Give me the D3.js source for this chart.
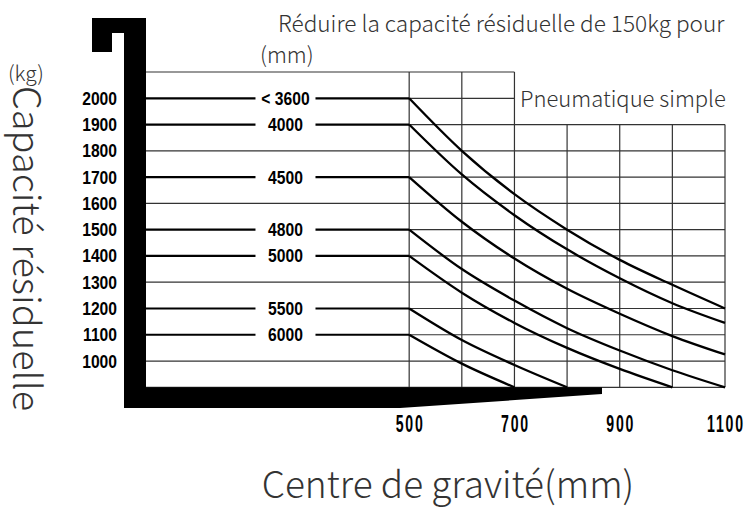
<!DOCTYPE html>
<html>
<head>
<meta charset="utf-8">
<script src="https://cdn.jsdelivr.net/npm/d3@7"></script>
<style>
  body { margin: 0; background: #fff; }
  .tick-label { font-family: "Liberation Sans", Arial, sans-serif; font-weight: bold; fill: #000; }
  .note { font-family: "Noto Sans CJK SC", "Noto Sans", sans-serif; font-weight: 300; fill: #333; }
</style>
</head>
<body>
<svg id="drawing_region"></svg>
<script>
// values
const capacityTicks = [1000, 1100, 1200, 1300, 1400, 1500, 1600, 1700, 1800, 1900, 2000];
const gridLevels = [900, 1000, 1100, 1200, 1300, 1400, 1500, 1600, 1700, 1800, 1900, 2000, 2100];
const distanceTicks = [500, 700, 900, 1100];
const gridDistances = [500, 600, 700, 800, 900, 1000, 1100];
const mastHeights = ["< 3600", "4000", "4500", "4800", "5000", "5500", "6000"];
const startCapacity = [2000, 1900, 1700, 1500, 1400, 1200, 1100];
const curveDistances = [500, 600, 700, 800, 900, 1000, 1100];
const curveValues = [
    [2000, 1800, 1635, 1500, 1385, 1290, 1200],
    [1900, 1710, 1555, 1425, 1315, 1220, 1145],
    [1700, 1530, 1390, 1275, 1180, 1095, 1025],
    [1500, 1350, 1230, 1125, 1040, 965, 900],
    [1400, 1260, 1145, 1050, 970, 900],
    [1200, 1080, 985, 900],
    [1100, 990, 900]
];

const config = {
    width: 748,
    height: 509,
    left: 146, right: 725,
    top: 72, bottom: 387.3
};

const svg = d3.select('#drawing_region')
    .attr('width', config.width)
    .attr('height', config.height);

const x = d3.scaleLinear().domain([0, 1100]).range([config.left, config.right]);
const y = d3.scaleLinear().domain([900, 2100]).range([config.bottom, config.top]);

const labelAt = 265;   // distance (mm) where the mast labels sit
const gap = 30;

// narrow bold text (condensed by scaling)
function narrow(sel, px, py, size, sx) {
    sel.attr('class', 'tick-label')
       .attr('transform', (d, i) => `translate(${px(d, i)},${py(d, i)}) scale(${sx},1)`)
       .attr('font-size', size);
    return sel;
}

// grid: horizontal lines
const grid = svg.append('g').attr('stroke', '#333').attr('stroke-width', 1.2);
grid.selectAll('.h')
    .data(gridLevels)
    .enter()
    .append('line')
    .attr('x1', d => startCapacity.includes(d) ? x(500) : x(0))
    .attr('x2', d => d >= 2000 ? x(700) : x(1100))
    .attr('y1', d => y(d))
    .attr('y2', d => y(d));

// grid: vertical lines
grid.selectAll('.v')
    .data(gridDistances)
    .enter()
    .append('line')
    .attr('x1', d => x(d))
    .attr('x2', d => x(d))
    .attr('y1', d => d <= 700 ? y(2100) : y(1900))
    .attr('y2', y(900));

// lead-in lines with mast labels
const lead = svg.append('g').attr('stroke', '#000').attr('stroke-width', 2.2);
lead.selectAll('.l1')
    .data(startCapacity)
    .enter()
    .append('line')
    .attr('x1', x(0)).attr('x2', x(labelAt) - gap)
    .attr('y1', d => y(d)).attr('y2', d => y(d));
lead.selectAll('.l2')
    .data(startCapacity)
    .enter()
    .append('line')
    .attr('x1', x(labelAt) + gap).attr('x2', x(500))
    .attr('y1', d => y(d)).attr('y2', d => y(d));

narrow(svg.selectAll('.mast')
    .data(mastHeights)
    .enter()
    .append('text'), () => x(labelAt), (d, i) => y(startCapacity[i]) + 6.5, 18, 0.87)
    .attr('text-anchor', 'middle')
    .text(d => d);

// capacity curves
const line = d3.line()
    .x(d => x(d[0]))
    .y(d => y(d[1]))
    .curve(d3.curveMonotoneX);

svg.selectAll('.curve')
    .data(curveValues)
    .enter()
    .append('path')
    .attr('d', vals => line(vals.map((v, i) => [curveDistances[i], v])))
    .attr('fill', 'none')
    .attr('stroke', '#000')
    .attr('stroke-width', 2.3);

// black frame (mast & forks)
svg.append('path')
    .attr('d', `M92,18 H${config.left} V408 H124 V33 H112 V52 H92 Z`)
    .attr('fill', '#000');
svg.append('path')
    .attr('d', `M124,${config.bottom} H602 V394 L400,408 L124,408 Z`)
    .attr('fill', '#000');

// y tick labels
narrow(svg.selectAll('.ytick')
    .data(capacityTicks)
    .enter()
    .append('text'), () => 117, d => y(d) + 6.5, 18, 0.87)
    .attr('text-anchor', 'end')
    .text(d => d);

// x tick labels
narrow(svg.selectAll('.xtick')
    .data(distanceTicks)
    .enter()
    .append('text'), d => x(d) + 1, () => 432, 23.5, 0.6)
    .attr('text-anchor', 'middle')
    .attr('letter-spacing', 3)
    .text(d => d);

// texts
svg.append('text').attr('class', 'note')
    .attr('x', 278).attr('y', 32).attr('font-size', 22.6)
    .text('Réduire la capacité résiduelle de 150kg pour');
svg.append('text').attr('class', 'note')
    .attr('x', 260).attr('y', 63).attr('font-size', 22)
    .text('(mm)');
svg.append('text').attr('class', 'note')
    .attr('x', 520).attr('y', 107).attr('font-size', 22)
    .text('Pneumatique simple');
svg.append('text').attr('class', 'note')
    .attr('x', 8).attr('y', 81).attr('font-size', 21)
    .text('(kg)');
svg.append('text').attr('class', 'note')
    .attr('transform', 'translate(13,86) rotate(90)')
    .attr('font-size', 38)
    .text('Capacité résiduelle');
svg.append('text').attr('class', 'note')
    .attr('x', 448).attr('y', 498).attr('font-size', 37)
    .attr('text-anchor', 'middle')
    .text('Centre de gravité(mm)');
</script>
</body>
</html>
